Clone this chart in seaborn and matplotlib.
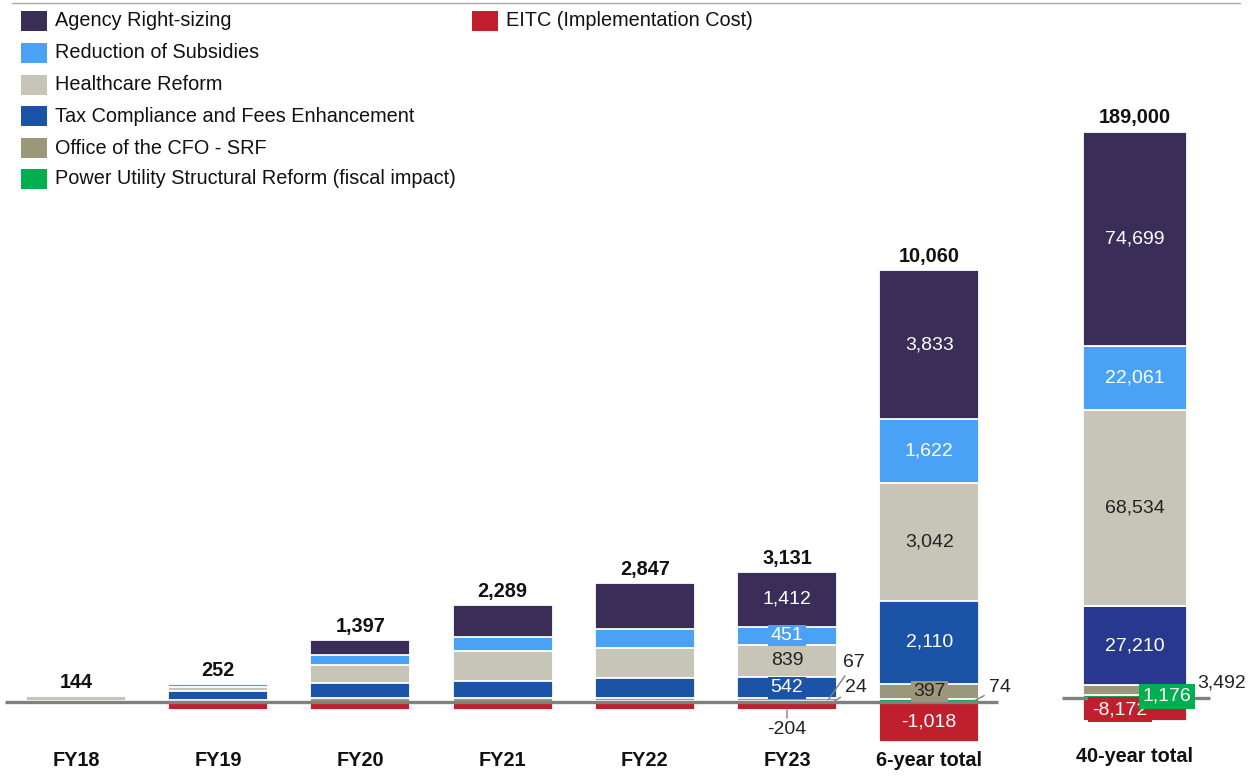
import numpy as np
import pandas as pd
import matplotlib.pyplot as plt
import seaborn as sns
from matplotlib.patches import Rectangle
from matplotlib.lines import Line2D

#Figure size in pixels (dpi 100)
W, H = 1252, 780

#Data
periods = ["FY18", "FY19", "FY20", "FY21", "FY22", "FY23", "6-year total"]
agency = [0, 0, 400, 830, 1191, 1412, 3833]
subsidies = [0, 80, 250, 360, 481, 451, 1622]
healthcare = [113, 100, 470, 760, 760, 839, 3042]
tax = [0, 230, 378, 440, 520, 542, 2110]
cfo = [31, 40, 93, 92, 74, 67, 397]
power = [0, 6, 10, 10, 24, 24, 74]
eitc = [0, -204, -204, -203, -203, -204, -1018]

long_period = "40-year total"
long_agency = 74699
long_subsidies = 22061
long_healthcare = 68534
long_tax = 27210
long_cfo = 3492
long_power = 1176
long_eitc = -8172

names = ["Agency Right-sizing", "Reduction of Subsidies", "Healthcare Reform",
         "Tax Compliance and Fees Enhancement", "Office of the CFO - SRF",
         "Power Utility Structural Reform (fiscal impact)"]
eitc_name = "EITC (Implementation Cost)"

colors = {"Agency Right-sizing": "#3a2d58",
          "Reduction of Subsidies": "#4aa2f6",
          "Healthcare Reform": "#c7c5b7",
          "Tax Compliance and Fees Enhancement": "#1b53a6",
          "Office of the CFO - SRF": "#9a977b",
          "Power Utility Structural Reform (fiscal impact)": "#00b050",
          eitc_name: "#c01f2d"}
tax_long_color = "#28388f"
text_dark = {"Healthcare Reform", "Office of the CFO - SRF"}

sns.set_theme(style="white")
plt.rcParams['font.family'] = ['Liberation Sans', 'DejaVu Sans']

df = pd.DataFrame({"period": periods, names[0]: agency, names[1]: subsidies,
                   names[2]: healthcare, names[3]: tax, names[4]: cfo,
                   names[5]: power, eitc_name: eitc})
bottom_up = names[::-1]
cum = df[bottom_up].cumsum(axis=1)
cum["period"] = periods

#pixel layout
x0_px, step_px = 76, 142.2
base_px, scale1 = 702, 0.039
base2_px, scale2 = 698, 566 / 197172
bar_w = 100 / step_px
bar_w2 = 104 / step_px
x_long = (1135 - x0_px) / step_px
fs_txt = 14.3
fs_seg = 14

def fx(px):
    return px / W

def fy(py):
    return 1 - py / H

fig = plt.figure(figsize=(W / 100, H / 100), dpi=100)
ax = fig.add_axes([0, 0, 1, 1])

#stacked bars drawn as overlapping cumulative bars (top layer first)
for name in names:
    sns.barplot(data=cum, x="period", y=name, order=periods, color=colors[name],
                saturation=1, width=bar_w, edgecolor="white", linewidth=1.3,
                errorbar=None, ax=ax)
sns.barplot(data=df, x="period", y=eitc_name, order=periods, color=colors[eitc_name],
            saturation=1, width=bar_w, edgecolor="white", linewidth=1.3,
            errorbar=None, ax=ax)

ax.set_xlim(-x0_px / step_px, (W - x0_px) / step_px)
ax.set_ylim(-(H - base_px) / scale1, base_px / scale1)
ax.axis("off")

#40-year total on its own scale
ax2 = ax.twinx()
long_vals = [long_power, long_cfo, long_tax, long_healthcare, long_subsidies, long_agency]
long_cols = [colors[n] for n in bottom_up]
long_cols[2] = tax_long_color
bottoms = np.concatenate([[0], np.cumsum(long_vals)[:-1]])
ax2.bar([x_long] * 6, long_vals, bottom=bottoms, width=bar_w2, color=long_cols,
        edgecolor="white", linewidth=1.3)
ax2.bar([x_long], [long_eitc], width=bar_w2, color=colors[eitc_name],
        edgecolor="white", linewidth=1.3)
ax2.set_ylim(-(H - base2_px) / scale2, base2_px / scale2)
ax.set_xlim(-x0_px / step_px, (W - x0_px) / step_px)
ax2.axis("off")

#zero lines
ax.hlines(0, (5 - x0_px) / step_px, (998 - x0_px) / step_px, color="#808080", lw=2.4, zorder=5)
ax2.hlines(0, (1062 - x0_px) / step_px, (1210 - x0_px) / step_px, color="#808080", lw=2.4, zorder=5)

#totals on top
pos_tot = cum[names[0]].values
net = pos_tot + np.array(eitc)
for i in range(len(periods)):
    ax.annotate(f"{int(net[i]):,}", (i, pos_tot[i]), xytext=(0, 8), textcoords="offset pixels",
                ha="center", va="baseline", fontsize=fs_txt, fontweight="bold", color="#111111")
long_pos = sum(long_vals)
ax2.annotate(f"{long_pos + long_eitc:,}", (x_long, long_pos), xytext=(0, 9), textcoords="offset pixels",
             ha="center", va="baseline", fontsize=fs_txt, fontweight="bold", color="#111111")

#category labels
for i, p in enumerate(periods):
    fig.text(fx(x0_px + i * step_px), fy(760), p, ha="center", va="center",
             fontsize=fs_txt, fontweight="bold", color="#111111")
fig.text(fx(1135), fy(757), long_period, ha="center", va="center",
         fontsize=fs_txt, fontweight="bold", color="#111111")

def seg_label(axis, x, y, v, name, color=None, dx=0, pad=1.5):
    c = color or colors[name]
    tc = "#222222" if name in text_dark else "white"
    axis.annotate(f"{v:,}", (x, y), xytext=(dx, 0), textcoords="offset pixels",
                  ha="center", va="center", fontsize=fs_seg, color=tc, zorder=7,
                  bbox=dict(facecolor=c, edgecolor="none", pad=pad))

def leader(axis, x, y, v, dx, dy):
    axis.annotate(f"{v:,}", (x, y), xytext=(dx, dy), textcoords="offset pixels",
                  ha="left", va="center", fontsize=fs_seg, color="#222222", zorder=7,
                  arrowprops=dict(arrowstyle="-", color="#808080", lw=1,
                                  shrinkA=1, shrinkB=0))

#labels inside FY23 and 6-year bars
for i in [5, 6]:
    b = 0
    for name in bottom_up:
        v = df.loc[i, name]
        mid = b + v / 2
        if v > 200:
            seg_label(ax, i, mid, v, name)
        b += v
leader(ax, 5 + 0.29, power[5] + cfo[5] / 2, cfo[5], 15, 37)
leader(ax, 5 + 0.33, power[5] / 2, power[5], 11, 14)
leader(ax, 6 + 0.32, power[6] / 2, power[6], 14, 13)
ax.annotate(f"{eitc[5]:,}", (5, eitc[5]), xytext=(0, -20), textcoords="offset pixels",
            ha="center", va="center", fontsize=fs_seg, color="#222222",
            arrowprops=dict(arrowstyle="-", color="#808080", lw=1, shrinkA=6, shrinkB=0))
seg_label(ax, 6, eitc[6] / 2, eitc[6], eitc_name)

#labels on the 40-year bar
for k, name in enumerate(bottom_up):
    if k >= 2:
        seg_label(ax2, x_long, bottoms[k] + long_vals[k] / 2, long_vals[k], name, color=long_cols[k])
leader(ax2, x_long + 0.33, long_power + long_cfo / 2, long_cfo, 15, 7)
seg_label(ax2, x_long, long_eitc / 2, long_eitc, eitc_name, dx=-15, pad=3)
seg_label(ax2, x_long, long_power / 2, long_power, names[5], dx=32, pad=3)

#legend drawn by hand
rows = [21, 53, 85, 116, 148, 179]
for name, r in zip(names, rows):
    fig.add_artist(Rectangle((fx(21), fy(r + 9.5)), 26 / W, 19 / H, transform=fig.transFigure,
                             facecolor=colors[name], edgecolor="none"))
    fig.text(fx(55), fy(r), name, ha="left", va="center", fontsize=fs_txt, color="#111111")
fig.add_artist(Rectangle((fx(472), fy(21 + 9.5)), 26 / W, 19 / H, transform=fig.transFigure,
                         facecolor=colors[eitc_name], edgecolor="none"))
fig.text(fx(506), fy(21), eitc_name, ha="left", va="center", fontsize=fs_txt, color="#111111")

#thin rule on top
fig.add_artist(Line2D([fx(12), fx(1240)], [fy(3), fy(3)], transform=fig.transFigure,
                      color="#a6a6a6", lw=1))

fig.savefig("out.png", dpi=100)
